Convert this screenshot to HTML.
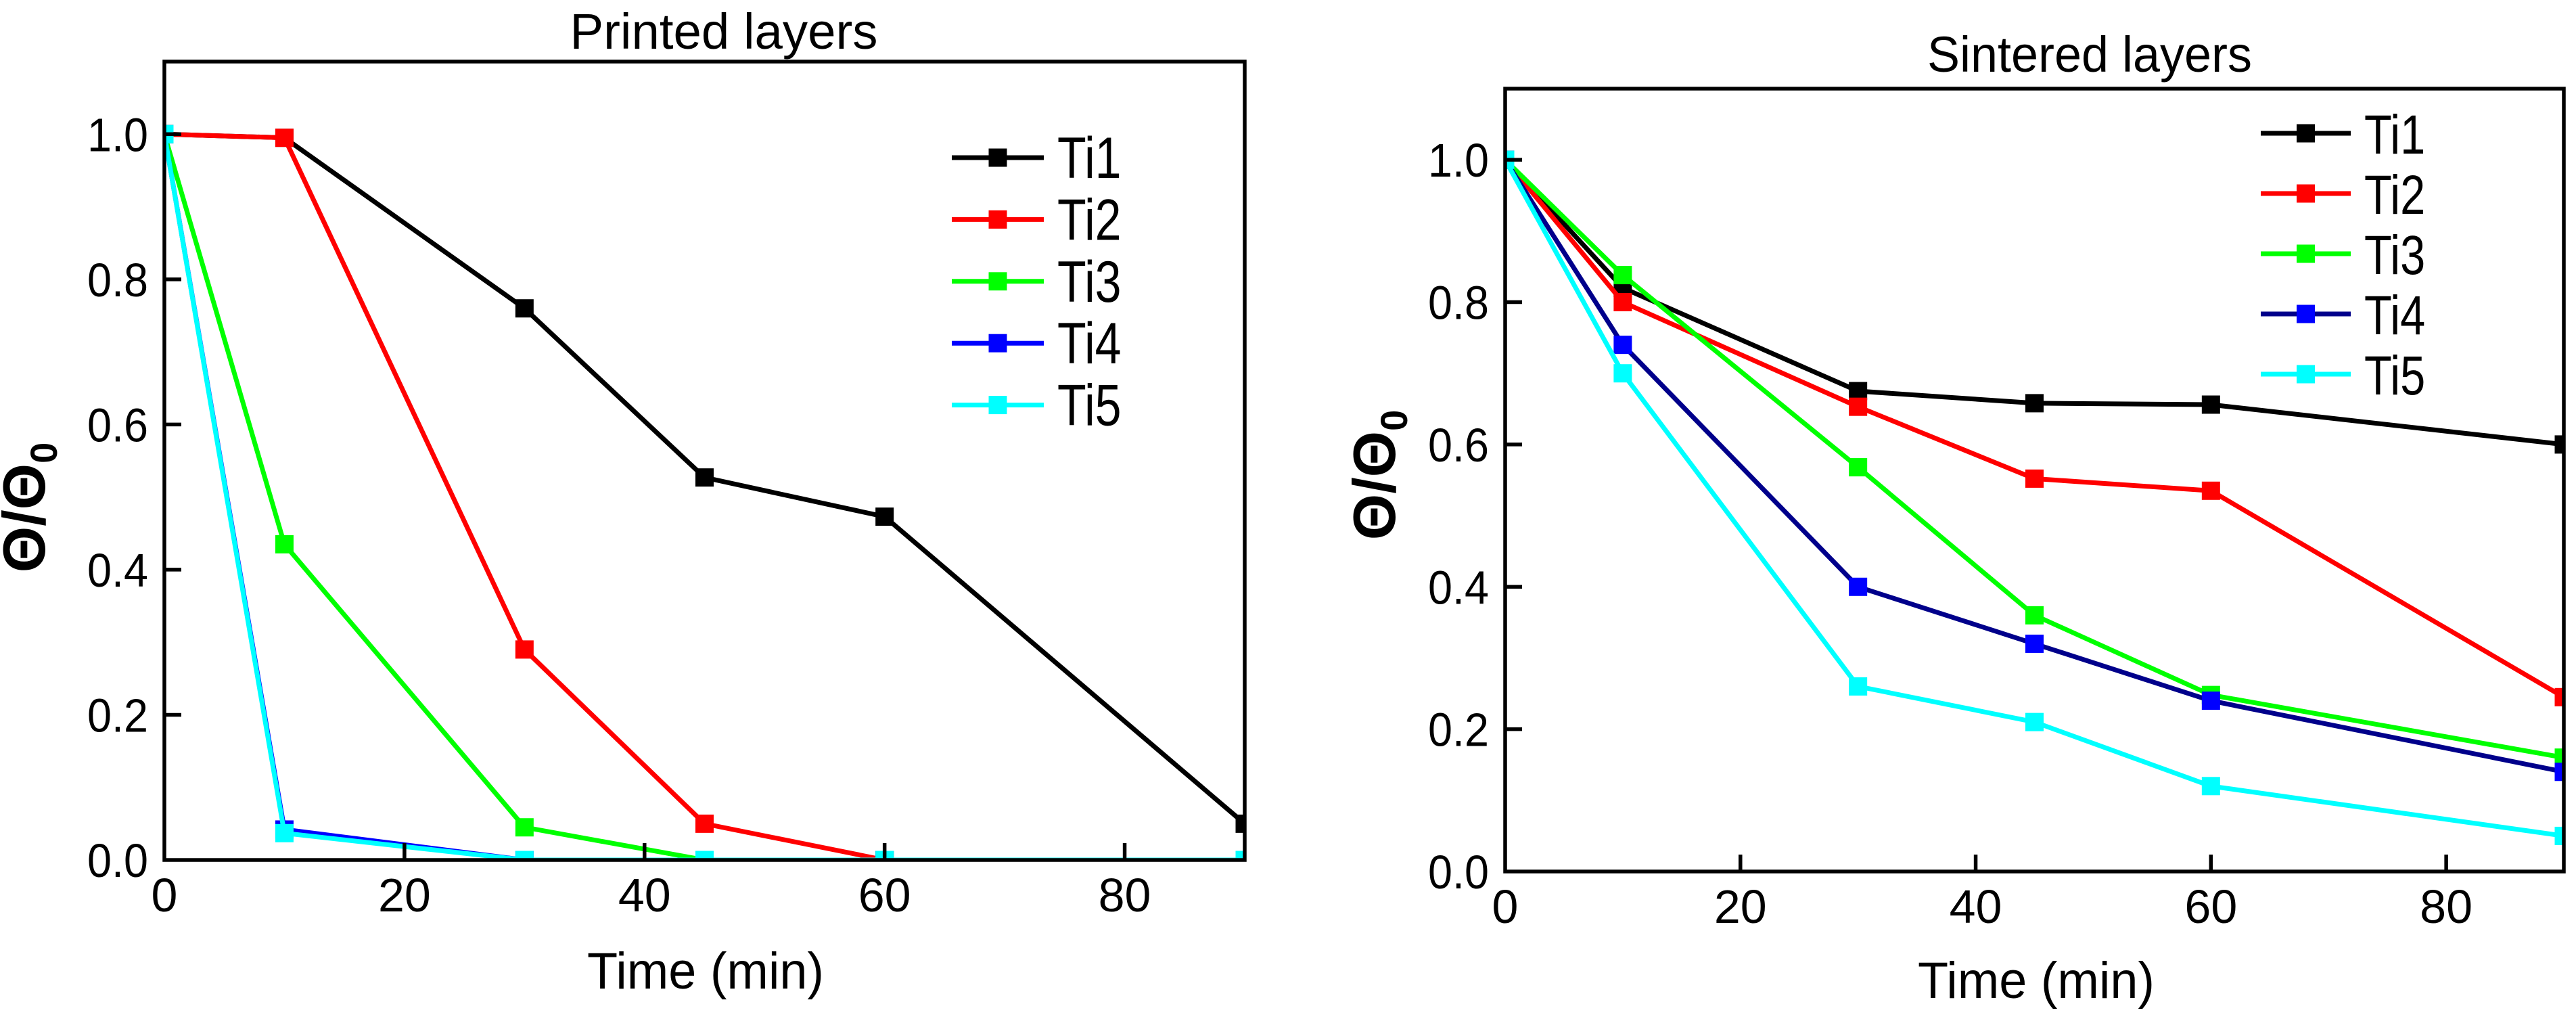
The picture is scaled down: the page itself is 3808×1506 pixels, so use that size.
<!DOCTYPE html>
<html><head><meta charset="utf-8"><style>
html,body{margin:0;padding:0;background:#fff;}
svg{display:block;}
text{font-family:"Liberation Sans",Arial,sans-serif;fill:#000;}
</style></head><body>
<svg id="fig" width="3808" height="1506" viewBox="0 0 3808 1506" xmlns="http://www.w3.org/2000/svg"></svg>
<script>
const times = [0, 10, 30, 45, 60, 90];
const seriesNames = ["Ti1", "Ti2", "Ti3", "Ti4", "Ti5"];
const printedTi1 = [1.0, 0.995, 0.76, 0.527, 0.473, 0.05];
const printedTi2 = [1.0, 0.995, 0.29, 0.05, 0.0, 0.0];
const printedTi3 = [1.0, 0.435, 0.045, 0.0, 0.0, 0.0];
const printedTi4 = [1.0, 0.042, 0.0, 0.0, 0.0, 0.0];
const printedTi5 = [1.0, 0.037, 0.0, 0.0, 0.0, 0.0];
const sinteredTi1 = [1.0, 0.82, 0.675, 0.658, 0.656, 0.60];
const sinteredTi2 = [1.0, 0.80, 0.653, 0.552, 0.535, 0.245];
const sinteredTi3 = [1.0, 0.838, 0.568, 0.36, 0.248, 0.16];
const sinteredTi4 = [1.0, 0.74, 0.40, 0.32, 0.24, 0.14];
const sinteredTi5 = [1.0, 0.70, 0.26, 0.21, 0.12, 0.05];
const xTicks = [0, 20, 40, 60, 80];
const yTicks = [0.0, 0.2, 0.4, 0.6, 0.8, 1.0];
const yTickLabels = ["0.0", "0.2", "0.4", "0.6", "0.8", "1.0"];

const NS = "http://www.w3.org/2000/svg";
const svg = document.getElementById("fig");
function mk(tag, attrs, parent) {
  const e = document.createElementNS(NS, tag);
  for (const k in attrs) e.setAttribute(k, attrs[k]);
  (parent || svg).appendChild(e);
  return e;
}

function drawPanel(p) {
  const g = mk("g", {});
  
  
  const sx = v => p.x0 + (v - 0) / 90 * (p.x1 - p.x0);
  const sy = v => p.y0 - v / 1.1 * (p.y0 - p.y1);
  const clipId = p.id + "-clip";
  const cp = mk("clipPath", {id: clipId}, g);
  mk("rect", {x: p.x0, y: p.y1, width: p.x1 - p.x0, height: p.y0 - p.y1}, cp);

  const t = mk("text", {x: p.titleX, y: p.titleY, "font-size": 74, "text-anchor": "middle", textLength: p.titleLen, lengthAdjust: "spacingAndGlyphs"}, g);
  t.textContent = p.title;
  
  

  const sg = mk("g", {"clip-path": "url(#" + clipId + ")"}, g);
  p.series.forEach((vals, i) => {
    const pts = vals.map((v, j) => sx(times[j]).toFixed(1) + "," + sy(v).toFixed(1)).join(" ");
    const line = mk("polyline", {points: pts, fill: "none", stroke: p.lineColors[i], "stroke-width": 7, "stroke-linejoin": "miter"}, sg);
    
    
    vals.forEach((v, j) => {
      const m = mk("rect", {x: sx(times[j]) - 13.5, y: sy(v) - 13.5, width: 27, height: 27, fill: p.markerColors[i]}, sg);
      
      
    });
  });

  const fr = mk("rect", {x: p.x0, y: p.y1, width: p.x1 - p.x0, height: p.y0 - p.y1, fill: "none", stroke: "#000", "stroke-width": 5.5}, g);
  
  

  xTicks.forEach(v => {
    const x = sx(v);
    if (v > 0) mk("line", {x1: x, x2: x, y1: p.y0, y2: p.y0 - 25, stroke: "#000", "stroke-width": 5.5}, g);
    const tl = mk("text", {x: x, y: p.y0 + 76, "font-size": 70, "text-anchor": "middle"}, g);
    tl.textContent = String(v);
    
    
  });
  yTicks.forEach((v, i) => {
    const y = sy(v);
    if (v > 0) mk("line", {x1: p.x0, x2: p.x0 + 25, y1: y, y2: y, stroke: "#000", "stroke-width": 5.5}, g);
    const tl = mk("text", {x: p.x0 - 24, y: y + 25, "font-size": 70, "text-anchor": "end", textLength: 90, lengthAdjust: "spacingAndGlyphs"}, g);
    tl.textContent = yTickLabels[i];
    
    
  });

  const xt = mk("text", {x: p.xtX, y: p.xtY, "font-size": 76, "text-anchor": "middle", textLength: 350, lengthAdjust: "spacingAndGlyphs"}, g);
  xt.textContent = "Time (min)";
  
  
  const yt = mk("text", {x: 0, y: 0, "font-size": 88, "font-family": "Liberation Serif, serif", "font-weight": "bold", "text-anchor": "middle", transform: "translate(" + p.ytX + "," + p.ytY + ") rotate(-90)"}, g);
  yt.innerHTML = 'Θ/Θ<tspan font-size="56" dy="18">0</tspan>';
  
  

  seriesNames.forEach((n, i) => {
    const y = p.legY + i * p.legDy;
    const lg = mk("g", {}, g);
    
    
    mk("line", {x1: p.legX0, x2: p.legX1, y1: y, y2: y, stroke: p.lineColors[i], "stroke-width": 7}, lg);
    const mx = (p.legX0 + p.legX1) / 2;
    mk("rect", {x: mx - 13.5, y: y - 13.5, width: 27, height: 27, fill: p.markerColors[i]}, lg);
    const lt = mk("text", {x: p.legX1 + 20, y: y + 30, "font-size": p.legFont, textLength: p.legFont * 1.1, lengthAdjust: "spacingAndGlyphs"}, lg);
    lt.textContent = n;
  });
}

drawPanel({
  id: "printed", title: "Printed layers", titleX: 1070, titleY: 72, titleLen: 455,
  x0: 243, x1: 1840, y0: 1271, y1: 91,
  series: [printedTi1, printedTi2, printedTi3, printedTi4, printedTi5],
  lineColors: ["#000", "#ff0000", "#00ff00", "#0000ff", "#00ffff"],
  markerColors: ["#000", "#ff0000", "#00ff00", "#0000ff", "#00ffff"],
  xtX: 1043, xtY: 1461, ytX: 66, ytY: 750,
  legX0: 1407, legX1: 1543, legY: 233, legDy: 91.4, legFont: 86
});
drawPanel({
  id: "sintered", title: "Sintered layers", titleX: 3089, titleY: 106, titleLen: 480,
  x0: 2225, x1: 3790, y0: 1288, y1: 131,
  series: [sinteredTi1, sinteredTi2, sinteredTi3, sinteredTi4, sinteredTi5],
  lineColors: ["#000", "#ff0000", "#00ff00", "#00008b", "#00ffff"],
  markerColors: ["#000", "#ff0000", "#00ff00", "#0000ff", "#00ffff"],
  xtX: 3010, xtY: 1475, ytX: 2062, ytY: 702,
  legX0: 3342, legX1: 3475, legY: 197, legDy: 89, legFont: 82
});
</script>
</body></html>
